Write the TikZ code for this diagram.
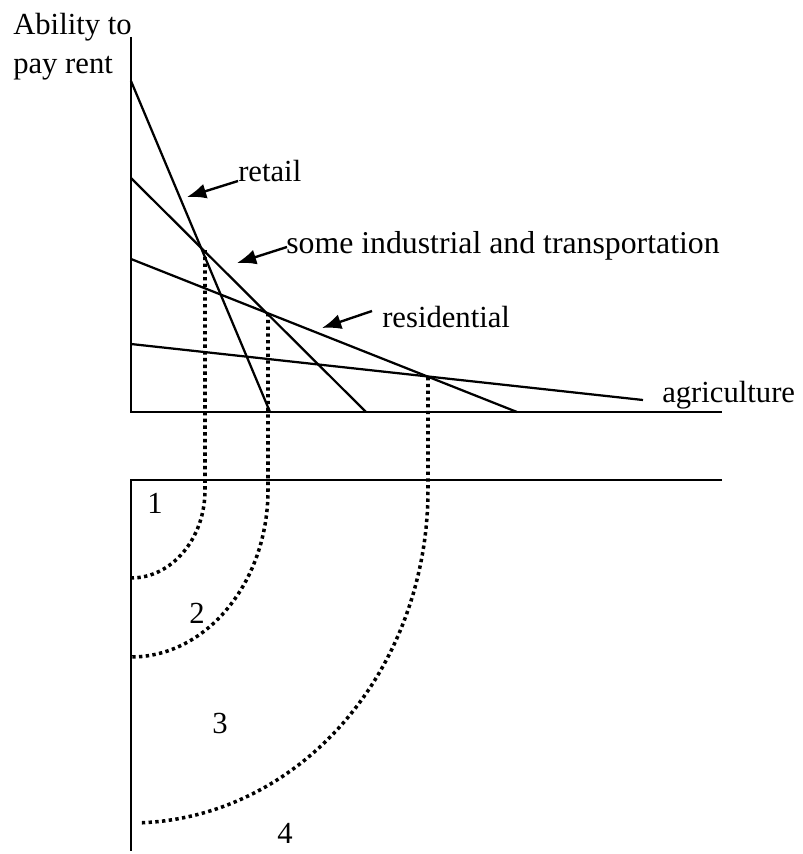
\documentclass[tikz,border=0pt]{standalone}
\usepackage{fontspec}
\setmainfont{Liberation Serif}
\usetikzlibrary{arrows.meta}

\begin{document}
\begin{tikzpicture}[x=0.025cm, y=-0.025cm,
  axis/.style={line width=1.6pt},
  rent/.style={line width=1.6pt},
  zone/.style={line width=2.5pt, dash pattern=on 2.4pt off 2.4pt},
  annot/.style={inner sep=0pt, font=\fontsize{21.8}{27.6}\selectfont},
  arrow/.style={line width=1.7pt, -{Latex[length=4.8mm, width=3.8mm]}}]

  \useasboundingbox (0,0) rectangle (802,854);

  \coordinate (top) at (131,37);
  \coordinate (origin) at (131,412);
  \coordinate (xend) at (722,412);
  \coordinate (base) at (131,480);
  \coordinate (baseend) at (722,480);
  \coordinate (bottom) at (131,851);

  \draw[axis] (top) -- (origin) -- (xend);
  \draw[axis] (baseend) -- (base) -- (bottom);

  \draw[rent] (131,81) -- (270,412);
  \draw[rent] (131,178) -- (366,412);
  \draw[rent] (131,259) -- (517,412);
  \draw[rent] (131,344) -- (643,400);

  \draw[zone] (205,250) -- (205,490) .. controls (205,538.6) and (171.9,578) .. (131,578);
  \draw[zone] (268,313) -- (268,490) .. controls (268,582.2) and (206.7,657) .. (131,657);
  \draw[zone] (428,377) -- (428,490) -- plot[domain=0:87.9, samples=40, smooth] ({131+297*cos(\x)},{490+333*sin(\x)});

  \node[annot, anchor=north west, align=left] (ylabel) at (13,13) {Ability to\\pay rent};
  \node[annot, anchor=base west] (retail) at (238,181) {retail};
  \node[annot, anchor=base west, font=\fontsize{22.6}{27.6}\selectfont] (industry) at (286,253) {some industrial and transportation};
  \node[annot, anchor=base west] (resid) at (382,327) {residential};
  \node[annot, anchor=base west] (agri) at (662,402) {agriculture};

  \coordinate (retailtip) at (187,197);
  \coordinate (industrytip) at (237,263);
  \coordinate (residtip) at (322,328);

  \draw[arrow] (retail.base west) -- (retailtip);
  \draw[arrow] ([shift={(1,-6)}]industry.base west) -- (industrytip);
  \draw[arrow] ([shift={(-10,-16)}]resid.base west) -- (residtip);

  \node[annot] (zone1) at (155,503) {1};
  \node[annot] (zone2) at (197,613) {2};
  \node[annot] (zone3) at (220,723) {3};
  \node[annot] (zone4) at (285,833) {4};
\end{tikzpicture}
\end{document}
